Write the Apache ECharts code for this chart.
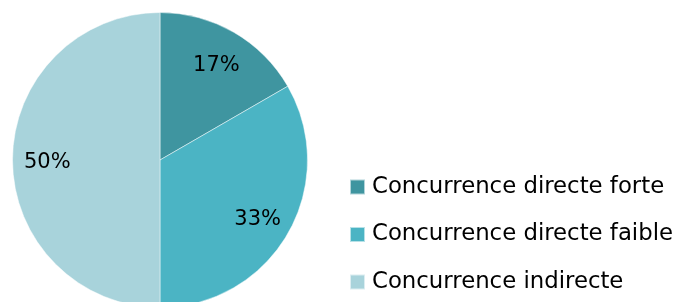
<!DOCTYPE html>
<html>
<head>
<meta charset="utf-8">
<script src="https://cdn.jsdelivr.net/npm/echarts@6/dist/echarts.min.js"></script>
<style>
  html, body { margin: 0; padding: 0; background: #fff; }
  #chart { width: 680px; height: 302px; }
</style>
</head>
<body>
<div id="chart"></div>
<script>
// data
const categories = ['Concurrence directe forte', 'Concurrence directe faible', 'Concurrence indirecte'];
const values = [1, 2, 3];
const colors = ['#3F95A0', '#4BB4C4', '#A8D3DB'];

const pieData = categories.map((name, i) => ({ name, value: values[i], itemStyle: { color: colors[i] } }));

const chart = echarts.init(document.getElementById('chart'), null, { renderer: 'canvas' });
const font = 'DejaVu Sans';

chart.setOption({
  animation: false,
  legend: {
    orient: 'vertical',
    left: 349,
    top: 174,
    padding: 0,
    itemWidth: 15,
    itemHeight: 15,
    itemGap: 21.5,
    icon: 'rect',
    textStyle: { fontFamily: font, fontSize: 22.8, color: '#000', lineHeight: 26, padding: [0, 0, 0, 2] },
    data: categories
  },
  series: [{
    // slices
    type: 'pie',
    center: [160, 160],
    radius: [0, 147.5],
    silent: true,
    startAngle: 90,
    itemStyle: { borderColor: 'rgba(255,255,255,0.6)', borderWidth: 0.8 },
    label: { show: false },
    labelLine: { show: false },
    data: pieData
  }, {
    // labels only, placed further out than the default inside position
    type: 'pie',
    center: [160, 160],
    radius: [72, 147.5],
    silent: true,
    startAngle: 90,
    legendHoverLink: false,
    itemStyle: { color: 'rgba(0,0,0,0)' },
    label: {
      show: true,
      position: 'inside',
      formatter: p => Math.round(p.percent) + '%',
      fontFamily: font,
      fontSize: 21,
      color: '#000',
      offset: [0, 3]
    },
    labelLine: { show: false },
    data: categories.map((name, i) => ({ name, value: values[i] }))
  }]
});
</script>
</body>
</html>
